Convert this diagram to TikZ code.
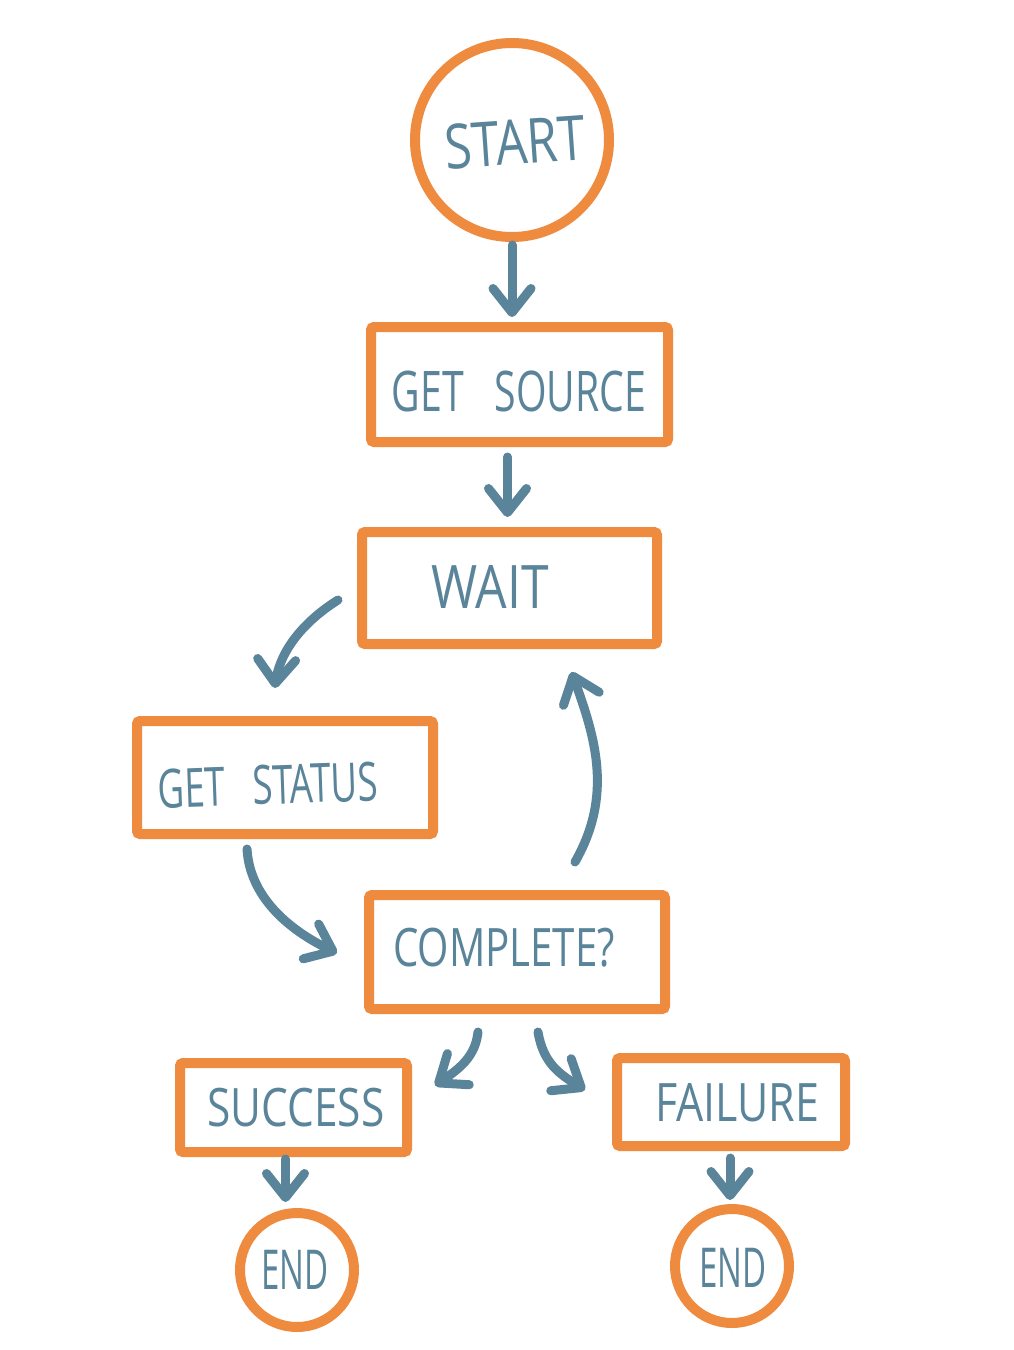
\documentclass[tikz,border=0pt]{standalone}
\usepackage{fontspec}
\setmainfont{Open Sans}
\usetikzlibrary{arrows.meta,bending}
\definecolor{boxorange}{HTML}{EE8B3F}
\definecolor{inkblue}{HTML}{5A8499}
\newcommand\hw[2]{\scalebox{#1}[1]{#2}}
\newcommand\fsz[1]{\fontsize{#1pt}{#1pt}\selectfont}
\begin{document}
\begin{tikzpicture}[x=1pt,y=-1pt,
  box/.style={draw=boxorange,line width=10pt,rounded corners=3pt,inner sep=0pt},
  circ/.style={draw=boxorange,line width=10pt,circle,inner sep=0pt},
  lbl/.style={text=inkblue,inner sep=0pt},
  arr/.style={draw=inkblue,line width=9pt,line cap=round,-{Straight Barb[length=24pt,width=38pt,round]}}]
\fill[white] (0,0) rectangle (1013,1350);
\useasboundingbox (0,0) rectangle (1013,1350);

% shapes
\node[circ,minimum size=194pt] (start) at (512,140) {};
\node[box,minimum width=297pt,minimum height=115pt] (getsrc) at (519.5,384.5) {};
\node[box,minimum width=295pt,minimum height=112pt] (wait) at (509.5,588) {};
\node[box,minimum width=296pt,minimum height=113pt] (getstat) at (285,777.5) {};
\node[box,minimum width=296pt,minimum height=114pt] (complete) at (517,952) {};
\node[box,minimum width=227pt,minimum height=89pt] (success) at (293.5,1107.5) {};
\node[box,minimum width=228pt,minimum height=88pt] (failure) at (731,1102) {};
\node[circ,minimum size=114pt] (end1) at (297,1270) {};
\node[circ,minimum size=114pt] (end2) at (732,1266) {};

% labels
\node[lbl,font=\fsz{62},rotate=4] (tstart) at (515,142) {\hw{0.8}{START}};
\node[lbl,font=\fsz{56}] (tgetsrc) at (519,391) {\hw{0.7}{GET\hspace{44pt}SOURCE}};
\node[lbl,font=\fsz{60}] (twait) at (490,587) {\hw{0.83}{WAIT}};
\node[lbl,font=\fsz{54},rotate=2] (tgetstat) at (268,785) {\hw{0.68}{GET\hspace{40pt}STATUS}};
\node[lbl,font=\fsz{53}] (tcomplete) at (504,948) {\hw{0.76}{COMPLETE?}};
\node[lbl,font=\fsz{53}] (tsuccess) at (296,1108) {\hw{0.8}{SUCCESS}};
\node[lbl,font=\fsz{53}] (tfailure) at (737,1103) {\hw{0.81}{FAILURE}};
\node[lbl,font=\fsz{55}] (tend1) at (295,1270) {\hw{0.6}{END}};
\node[lbl,font=\fsz{55}] (tend2) at (733,1268) {\hw{0.6}{END}};

% connectors
\draw[arr,shorten <=3pt,shorten >=5pt] (start.south) -- (start.south |- getsrc.north);
\draw[arr,shorten <=10pt,shorten >=10pt] ([shift={(-12,0)}]getsrc.south) -- ([shift={(-12,0)}]getsrc.south |- wait.north);
\draw[arr] ([shift={(-19,12)}]wait.west) .. controls +(-35,22) and +(2,-35) .. ([shift={(-10,-28)}]getstat.north);
\draw[arr] ([shift={(-38,10)}]getstat.south) .. controls +(3,50) and +(-45,-20) .. ([shift={(-27,1)}]complete.west);
\draw[arr] ([shift={(58,-28)}]complete.north) .. controls +(40,-70) and +(22,60) .. ([shift={(62,23)}]wait.south);
\draw[arr] ([shift={(-39,18)}]complete.south) .. controls +(-3,28) and +(20,-14) .. ([shift={(23,-22)}]success.east);
\draw[arr] ([shift={(21,18)}]complete.south) .. controls +(6,35) and +(-22,-14) .. ([shift={(-27,-12)}]failure.west);
\draw[arr,shorten <=2pt,shorten >=6pt] ([shift={(-8,0)}]success.south) -- ([shift={(-8,0)}]success.south |- end1.north);
\draw[arr,shorten <=7pt,shorten >=4pt] ([shift={(-1,0)}]failure.south) -- ([shift={(-1,0)}]failure.south |- end2.north);
\end{tikzpicture}
\end{document}
